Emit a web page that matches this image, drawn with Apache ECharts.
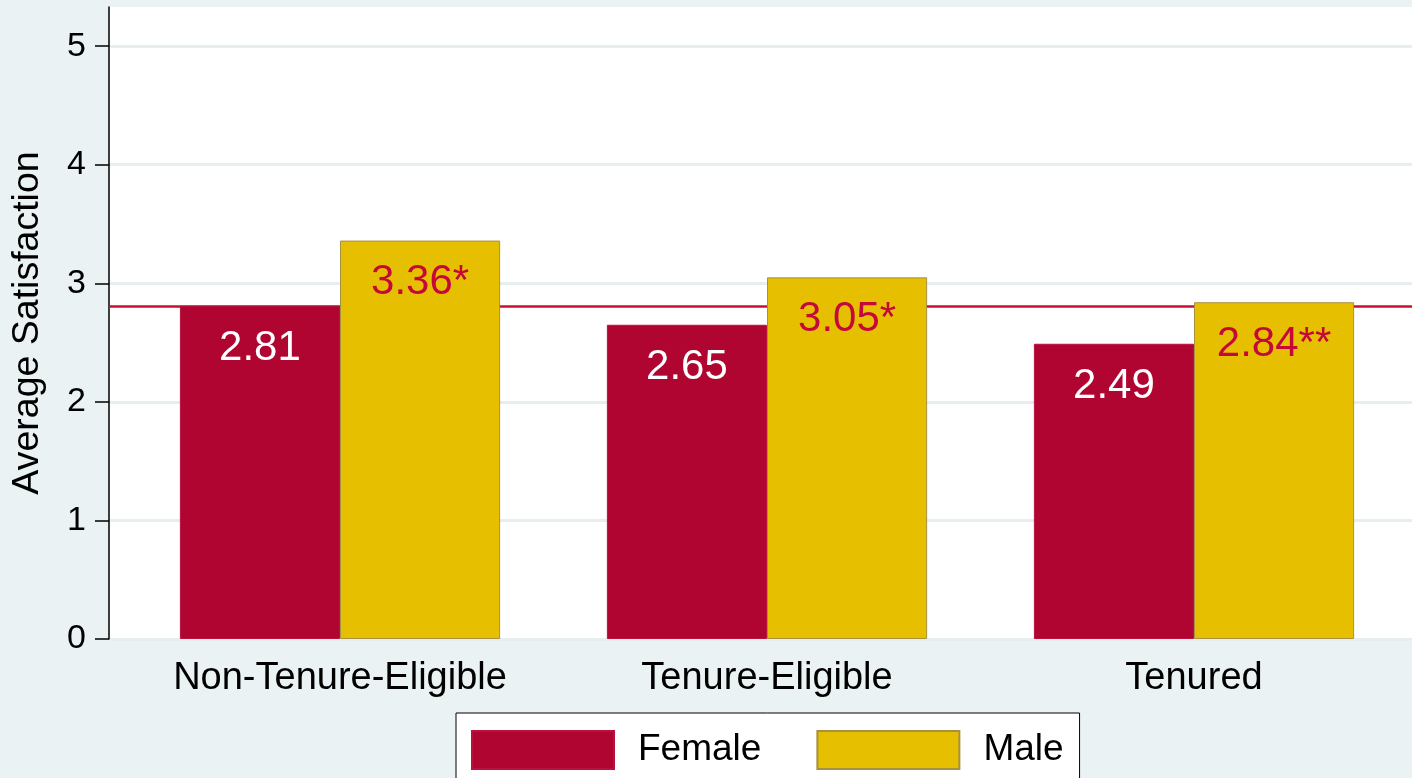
<!DOCTYPE html>
<html>
<head>
<meta charset="utf-8">
<script src="https://cdn.jsdelivr.net/npm/echarts@6/dist/echarts.min.js"></script>
<style>
  html, body { margin: 0; padding: 0; background: #eaf2f3; }
  #chart { width: 1412px; height: 778px; }
</style>
</head>
<body>
<div id="chart"></div>
<script>
// ---- data ----
const categories = ['Non-Tenure-Eligible', 'Tenure-Eligible', 'Tenured'];
const femaleValues = [2.81, 2.65, 2.49];
const maleValues = [3.36, 3.05, 2.84];
const femaleStars = ['', '', ''];
const maleStars = ['*', '*', '**'];
const overallMean = 2.81;
const yTicks = [0, 1, 2, 3, 4, 5];
const yMax = 5.33;

// ---- styles ----
const FONT = '"Liberation Sans", Arial, Helvetica, sans-serif';
const CRIMSON = '#b00530';
const GOLD = '#e6bf00';
const LABEL_RED = '#c4083a';

const chart = echarts.init(document.getElementById('chart'), null, { renderer: 'canvas' });

const option = {
  backgroundColor: '#eaf2f3',
  animation: false,
  textStyle: { fontFamily: FONT },
  grid: [
    // grid 0: full white plot area, y axis, gridlines, reference line
    { left: 109, right: 0, top: 7, bottom: 139, show: true, backgroundColor: '#ffffff', borderWidth: 0 },
    // grid 1: bars
    { left: 126.5, right: 4.5, top: 7, bottom: 139 }
  ],
  xAxis: [
    { gridIndex: 0, type: 'value', min: 0, max: 1, show: false },
    {
      gridIndex: 1, type: 'category', data: categories,
      axisLine: { show: false }, axisTick: { show: false },
      axisLabel: { color: '#000', fontSize: 38, margin: 21, interval: 0, hideOverlap: false, fontFamily: FONT }
    }
  ],
  yAxis: [
    {
      gridIndex: 0, type: 'value', min: 0, max: yMax, interval: 1,
      name: 'Average Satisfaction', nameLocation: 'middle', nameGap: 62,
      nameTextStyle: { color: '#000', fontSize: 37.5, fontFamily: FONT },
      axisLine: { show: true, lineStyle: { color: '#000', width: 1.5 } },
      axisTick: { show: true, length: 14, lineStyle: { color: '#000', width: 1.5 }, customValues: yTicks },
      axisLabel: { color: '#000', fontSize: 34, margin: 23, fontFamily: FONT, customValues: yTicks },
      splitLine: { show: true, lineStyle: { color: '#e6eef0', width: 3 } }
    },
    { gridIndex: 1, type: 'value', min: 0, max: yMax, interval: 1, show: false, splitLine: { show: false } }
  ],
  legend: {
    data: ['Female', 'Male'],
    left: 456, top: 713,
    orient: 'horizontal',
    backgroundColor: '#ffffff',
    borderColor: '#000', borderWidth: 1, borderRadius: 0,
    padding: [17, 16, 40, 15],
    itemWidth: 142, itemHeight: 38, itemGap: 55,
    icon: 'rect',
    textStyle: { color: '#000', fontSize: 37, fontFamily: FONT, padding: [0, 0, 0, 19] }
  },
  series: [
    {
      name: 'Mean', type: 'line', xAxisIndex: 0, yAxisIndex: 0, z: 1,
      data: [], silent: true,
      markLine: {
        z: 1,
        symbol: 'none', silent: true, label: { show: false },
        lineStyle: { color: '#c8102e', width: 2.5, type: 'solid' },
        data: [{ yAxis: overallMean }]
      }
    },
    {
      name: 'Female', type: 'bar', xAxisIndex: 1, yAxisIndex: 1, z: 3,
      data: femaleValues,
      barGap: '0%', barCategoryGap: '25%',
      itemStyle: { color: CRIMSON, borderColor: '#b8123c', borderWidth: 1 },
      label: {
        show: true, position: 'insideTop', distance: 22,
        color: '#ffffff', fontSize: 42, fontFamily: FONT,
        formatter: p => p.value.toFixed(2) + femaleStars[p.dataIndex]
      }
    },
    {
      name: 'Male', type: 'bar', xAxisIndex: 1, yAxisIndex: 1, z: 3,
      data: maleValues,
      barGap: '0%', barCategoryGap: '25%',
      itemStyle: { color: GOLD, borderColor: '#a89040', borderWidth: 1 },
      label: {
        show: true, position: 'insideTop', distance: 21,
        color: LABEL_RED, fontSize: 42, fontFamily: FONT,
        formatter: p => p.value.toFixed(2) + maleStars[p.dataIndex]
      }
    }
  ]
};

chart.setOption(option);
</script>
</body>
</html>
